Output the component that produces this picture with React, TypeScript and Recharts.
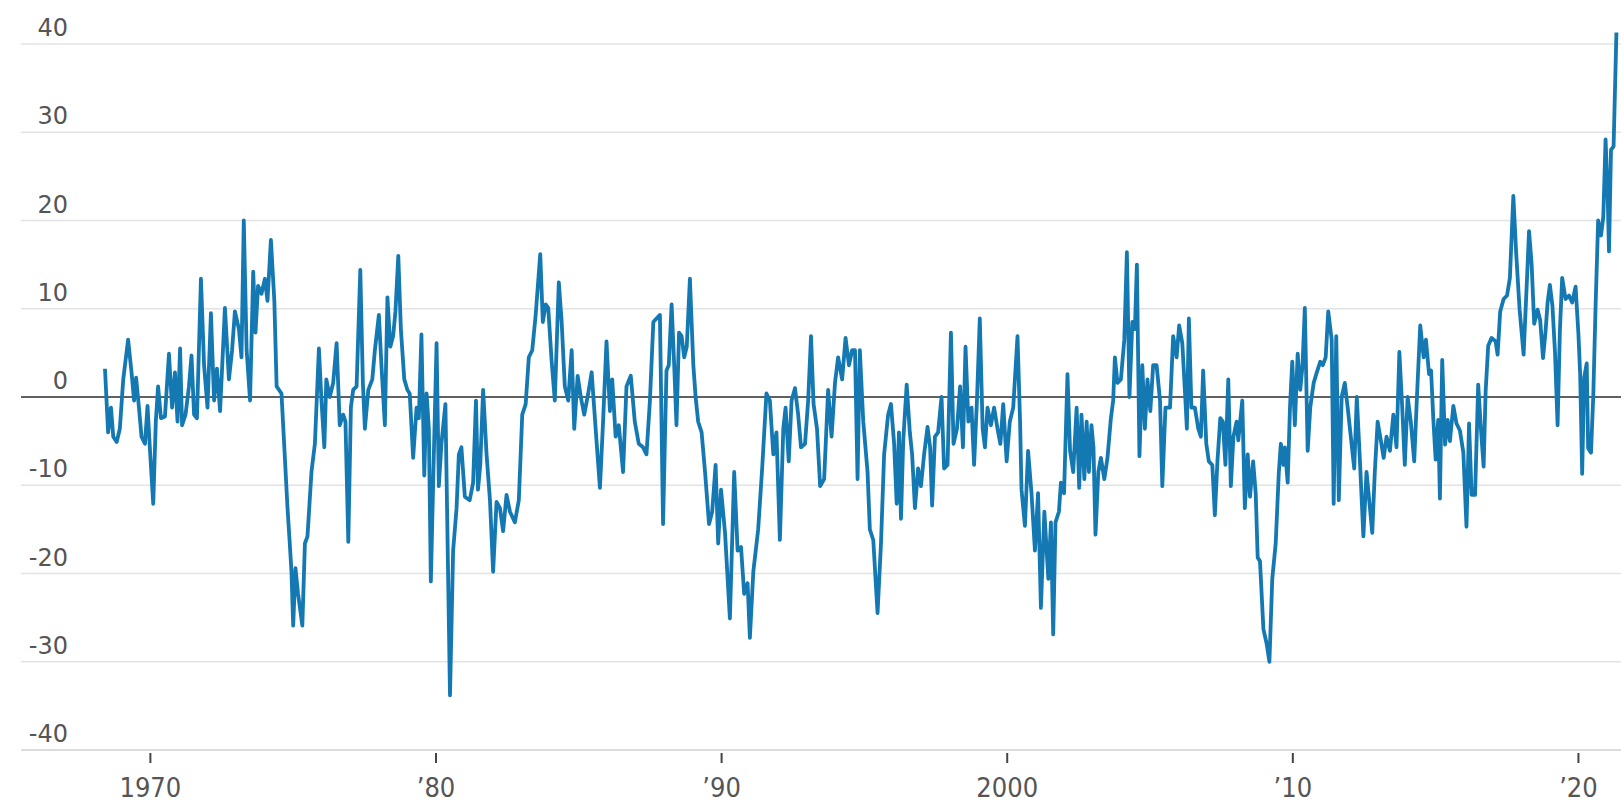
import { LineChart, Line, XAxis, YAxis, CartesianGrid, ReferenceLine } from "recharts";

const Y_TICKS = [-40, -30, -20, -10, 0, 10, 20, 30, 40];
const X_TICKS = [1970, 1980, 1990, 2000, 2010, 2020];
const X_LABELS = ["1970", "’80", "’90", "2000", "’10", "’20"];

// [decimal year, value]
const SERIES_1968_1975: [number, number][] = [
  [1968.41, 3.2], [1968.52, -4.0], [1968.62, -1.2], [1968.7, -4.5], [1968.82, -5.1],
  [1968.93, -3.6], [1969.05, 2.0], [1969.22, 6.5], [1969.34, 2.8], [1969.43, -0.4],
  [1969.5, 2.2], [1969.6, -1.2], [1969.69, -4.5], [1969.81, -5.3], [1969.9, -1.0],
  [1969.98, -5.7], [1970.1, -12.1], [1970.19, -2.8], [1970.27, 1.2], [1970.37, -2.4],
  [1970.51, -2.2], [1970.65, 4.9], [1970.76, -1.2], [1970.86, 2.8], [1970.95, -2.8],
  [1971.04, 5.5], [1971.11, -3.2], [1971.23, -2.0], [1971.35, 1.2], [1971.44, 4.7],
  [1971.53, -2.0], [1971.63, -2.4], [1971.77, 13.4], [1971.88, 3.6], [1972.0, -1.2],
  [1972.12, 9.5], [1972.23, -0.4], [1972.33, 3.2], [1972.44, -1.6], [1972.61, 10.1],
  [1972.75, 2.0], [1972.86, 5.3], [1972.96, 9.7], [1973.1, 7.7], [1973.19, 4.5],
  [1973.27, 20.0], [1973.37, 5.3], [1973.49, -0.4], [1973.6, 14.2], [1973.68, 7.3],
  [1973.77, 12.6], [1973.89, 11.7], [1974.01, 13.4], [1974.1, 10.9], [1974.22, 17.8],
  [1974.34, 10.9], [1974.42, 1.2], [1974.59, 0.4], [1974.8, -12.5], [1974.88, -16.6],
  [1974.94, -19.8], [1975.0, -25.9], [1975.08, -19.4], [1975.17, -22.3], [1975.32, -25.9],
  [1975.41, -16.6], [1975.5, -15.8], [1975.64, -8.5], [1975.76, -5.3], [1975.9, 5.5],
];

const SERIES_1976_1982: [number, number][] = [
  [1975.99, -0.4], [1976.09, -5.7], [1976.16, 2.0], [1976.28, 0], [1976.4, 1.6],
  [1976.52, 6.1], [1976.63, -3.2], [1976.75, -2.0], [1976.83, -2.8], [1976.93, -16.4],
  [1977.02, -1.2], [1977.1, 0.8], [1977.22, 1.2], [1977.35, 14.4], [1977.44, 1.6],
  [1977.51, -3.6], [1977.63, 0.8], [1977.77, 2.0], [1977.86, 5.3], [1978.0, 9.3],
  [1978.09, 3.6], [1978.21, -3.2], [1978.3, 11.3], [1978.4, 5.7], [1978.5, 6.9],
  [1978.58, 9.7], [1978.68, 16.0], [1978.77, 7.7], [1978.89, 2.0], [1979.0, 0.8],
  [1979.08, 0.4], [1979.2, -6.9], [1979.32, -1.2], [1979.4, -2.4], [1979.49, 7.1],
  [1979.59, -8.9], [1979.67, 0.4], [1979.75, -3.6], [1979.82, -20.9], [1979.91, -8.5],
  [1980.02, 6.1], [1980.1, -10.1], [1980.19, -5.3], [1980.33, -0.8], [1980.49, -33.8],
  [1980.6, -17.4], [1980.72, -12.6], [1980.8, -6.5], [1980.89, -5.7], [1981.01, -11.3],
  [1981.18, -11.7], [1981.3, -9.7], [1981.4, -0.4], [1981.47, -10.5], [1981.55, -7.7],
  [1981.65, 0.8], [1981.77, -6.5], [1981.89, -11.7], [1982.0, -19.8], [1982.12, -11.9],
  [1982.24, -12.6], [1982.35, -15.2], [1982.47, -11.1], [1982.59, -13.0], [1982.76, -14.2],
  [1982.9, -11.7],
];

const SERIES_1983_1989: [number, number][] = [
  [1983.02, -2.0], [1983.14, -0.8], [1983.25, 4.5], [1983.37, 5.3], [1983.49, 9.3],
  [1983.65, 16.2], [1983.74, 8.5], [1983.84, 10.5], [1983.93, 10.1], [1984.05, 4.0],
  [1984.16, -0.4], [1984.3, 13.0], [1984.4, 8.5], [1984.51, 1.2], [1984.63, -0.4],
  [1984.75, 5.3], [1984.84, -3.6], [1984.96, 2.4], [1985.07, 0], [1985.19, -2.0],
  [1985.33, 0.4], [1985.45, 2.8], [1985.59, -3.6], [1985.74, -10.3], [1985.85, -2.8],
  [1985.97, 6.3], [1986.09, -1.6], [1986.17, 2.0], [1986.29, -4.5], [1986.4, -3.2],
  [1986.55, -8.5], [1986.67, 1.2], [1986.82, 2.4], [1986.96, -2.8], [1987.1, -5.3],
  [1987.25, -5.7], [1987.37, -6.5], [1987.49, -0.4], [1987.61, 8.5], [1987.72, 8.9],
  [1987.84, 9.3], [1987.95, -14.4], [1988.07, 3.0], [1988.15, 3.6], [1988.25, 10.5],
  [1988.34, 3.6], [1988.42, -3.2], [1988.51, 7.3], [1988.6, 6.9], [1988.69, 4.5],
  [1988.78, 5.7], [1988.89, 13.4], [1989.01, 3.6], [1989.09, 0], [1989.18, -2.8],
  [1989.3, -4.0], [1989.42, -8.5], [1989.56, -14.4], [1989.67, -13.0], [1989.79, -7.7],
  [1989.88, -16.6], [1989.98, -10.5],
];

const SERIES_1990_1996: [number, number][] = [
  [1990.12, -15.4], [1990.29, -25.1], [1990.44, -8.5], [1990.56, -17.4], [1990.68, -17.0],
  [1990.79, -22.3], [1990.91, -21.1], [1990.99, -27.3], [1991.11, -19.8], [1991.28, -15.0],
  [1991.42, -8.1], [1991.57, 0.4], [1991.69, -0.4], [1991.81, -6.5], [1991.92, -4.0],
  [1992.04, -16.2], [1992.16, -3.6], [1992.24, -1.2], [1992.35, -7.3], [1992.45, -0.4],
  [1992.57, 1.0], [1992.68, -2.0], [1992.78, -5.7], [1992.92, -5.3], [1993.03, -0.4],
  [1993.13, 6.9], [1993.22, -0.8], [1993.34, -3.6], [1993.45, -10.1], [1993.59, -9.3],
  [1993.73, 0.8], [1993.85, -4.5], [1993.97, 1.6], [1994.08, 4.5], [1994.22, 2.0],
  [1994.34, 6.7], [1994.46, 3.6], [1994.57, 5.3], [1994.67, 5.3], [1994.76, -9.3],
  [1994.84, 5.3], [1994.96, -2.8], [1995.11, -8.5], [1995.19, -15.0], [1995.31, -16.2],
  [1995.46, -24.5], [1995.58, -16.6], [1995.69, -6.5], [1995.83, -2.0], [1995.93, -0.8],
  [1996.04, -5.3], [1996.13, -12.1], [1996.21, -4.0], [1996.28, -13.8], [1996.36, -4.9],
  [1996.48, 1.4], [1996.59, -4.0], [1996.67, -6.5], [1996.77, -12.6], [1996.88, -8.1],
  [1996.98, -10.1],
];

const SERIES_1997_2003: [number, number][] = [
  [1997.09, -6.5], [1997.21, -3.4], [1997.3, -5.7], [1997.37, -12.3], [1997.47, -4.5],
  [1997.58, -4.0], [1997.7, 0], [1997.79, -8.1], [1997.91, -7.7], [1998.03, 7.3],
  [1998.12, -5.3], [1998.24, -3.6], [1998.35, 1.2], [1998.45, -5.7], [1998.54, 5.7],
  [1998.64, -2.8], [1998.75, -1.2], [1998.84, -7.7], [1998.94, -0.4], [1999.04, 8.9],
  [1999.14, -3.6], [1999.22, -5.7], [1999.31, -1.2], [1999.43, -3.2], [1999.54, -1.2],
  [1999.66, -3.6], [1999.76, -5.3], [1999.86, -0.8], [1999.98, -7.3], [2000.09, -2.8],
  [2000.21, -1.2], [2000.36, 6.9], [2000.45, -2.8], [2000.5, -10.5], [2000.62, -14.6],
  [2000.73, -6.1], [2000.85, -10.9], [2000.97, -17.4], [2001.08, -10.9], [2001.18, -23.9],
  [2001.3, -13.0], [2001.44, -20.6], [2001.53, -14.2], [2001.61, -26.9], [2001.69, -14.2],
  [2001.81, -13.0], [2001.88, -9.7], [2001.99, -10.9], [2002.11, 2.6], [2002.2, -6.1],
  [2002.31, -8.5], [2002.43, -1.2], [2002.52, -10.3], [2002.6, -2.0], [2002.7, -9.3],
  [2002.78, -2.8], [2002.86, -8.5], [2002.95, -3.2], [2003.02, -5.7], [2003.09, -15.6],
  [2003.19, -8.5], [2003.28, -6.9], [2003.4, -9.3], [2003.51, -6.9], [2003.63, -2.4],
  [2003.71, -0.4], [2003.77, 4.5], [2003.86, 1.6], [2003.98, 2.0],
];

const SERIES_2004_2010: [number, number][] = [
  [2004.1, 6.5], [2004.19, 16.4], [2004.28, 0], [2004.38, 8.5], [2004.47, 7.7],
  [2004.54, 15.0], [2004.63, -6.7], [2004.73, 3.6], [2004.82, -3.6], [2004.91, 2.0],
  [2005.01, -1.6], [2005.11, 3.6], [2005.23, 3.6], [2005.35, -0.4], [2005.43, -10.1],
  [2005.54, -1.2], [2005.7, -1.2], [2005.81, 6.9], [2005.93, 4.5], [2006.02, 8.1],
  [2006.13, 6.1], [2006.24, -0.4], [2006.29, -3.6], [2006.36, 8.9], [2006.45, -1.2],
  [2006.57, -1.2], [2006.69, -3.6], [2006.78, -4.5], [2006.86, 3.0], [2006.97, -5.3],
  [2007.06, -7.3], [2007.18, -7.7], [2007.27, -13.4], [2007.36, -7.3], [2007.46, -2.4],
  [2007.55, -2.8], [2007.64, -7.7], [2007.74, 2.0], [2007.83, -10.1], [2007.92, -4.5],
  [2008.03, -2.8], [2008.09, -4.9], [2008.23, -0.4], [2008.32, -12.6], [2008.42, -6.5],
  [2008.5, -11.3], [2008.61, -7.3], [2008.7, -10.9], [2008.77, -18.2], [2008.85, -18.6],
  [2008.97, -26.3], [2009.08, -27.9], [2009.18, -30.0], [2009.28, -20.6], [2009.4, -16.6],
  [2009.51, -8.5], [2009.58, -5.3], [2009.67, -7.7], [2009.72, -5.7], [2009.82, -9.7],
  [2009.9, -1.2], [2009.98, 4.0], [2010.07, -3.2], [2010.17, 4.9], [2010.26, 0.8],
  [2010.34, 3.6], [2010.42, 10.1], [2010.52, -6.1], [2010.61, -1.2], [2010.73, 1.6],
  [2010.84, 2.8], [2010.96, 4.0],
];

const SERIES_2011_2016: [number, number][] = [
  [2011.05, 3.6], [2011.15, 4.5], [2011.24, 9.7], [2011.36, 6.5], [2011.43, -12.1],
  [2011.52, 6.9], [2011.61, -11.7], [2011.71, 0], [2011.82, 1.6], [2011.92, -1.2],
  [2012.03, -4.5], [2012.15, -8.1], [2012.24, 0], [2012.35, -7.3], [2012.47, -15.8],
  [2012.58, -8.5], [2012.7, -12.6], [2012.78, -15.4], [2012.87, -8.5], [2012.97, -2.8],
  [2013.06, -4.5], [2013.18, -6.9], [2013.28, -4.5], [2013.4, -6.1], [2013.52, -2.0],
  [2013.63, -5.7], [2013.73, 5.1], [2013.83, -1.2], [2013.92, -7.7], [2014.02, 0],
  [2014.13, -2.8], [2014.25, -7.3], [2014.34, -0.4], [2014.46, 8.1], [2014.58, 4.5],
  [2014.66, 6.5], [2014.77, 2.6], [2014.84, 3.0], [2014.92, -2.6], [2015.0, -7.1],
  [2015.09, -2.6], [2015.15, -11.5], [2015.23, 4.2], [2015.33, -5.4], [2015.42, -2.6],
  [2015.5, -5.0], [2015.62, -1.0], [2015.73, -3.0], [2015.85, -3.8], [2015.97, -6.3],
  [2016.08, -14.7], [2016.17, -3.0], [2016.26, -11.1], [2016.38, -11.1], [2016.49, 1.4],
  [2016.59, -3.8], [2016.68, -7.9], [2016.75, 0.6], [2016.84, 5.8], [2016.96, 6.7],
];

const SERIES_2017_2021: [number, number][] = [
  [2017.1, 6.3], [2017.17, 4.8], [2017.26, 9.7], [2017.38, 11.1], [2017.5, 11.5],
  [2017.6, 13.5], [2017.72, 22.8], [2017.82, 16.3], [2017.94, 9.9], [2018.08, 4.8],
  [2018.2, 13.5], [2018.27, 18.8], [2018.36, 15.1], [2018.45, 8.3], [2018.57, 9.9],
  [2018.66, 8.7], [2018.76, 4.4], [2018.85, 7.5], [2018.92, 10.7], [2019.0, 12.7],
  [2019.09, 10.3], [2019.18, 5.0], [2019.27, -3.2], [2019.35, 7.5], [2019.43, 13.5],
  [2019.55, 11.1], [2019.67, 11.5], [2019.78, 10.7], [2019.9, 12.5], [2020.0, 7.1],
  [2020.06, 2.6], [2020.13, -8.7], [2020.2, 2.2], [2020.29, 3.8], [2020.34, -5.8],
  [2020.44, -6.3], [2020.52, 0.2], [2020.6, 10.3], [2020.69, 20.0], [2020.79, 18.3],
  [2020.87, 20.4], [2020.95, 29.2], [2021.02, 23.2], [2021.07, 16.5], [2021.14, 28.0],
  [2021.23, 28.4], [2021.33, 41.3],
];

const data = [
  ...SERIES_1968_1975,
  ...SERIES_1976_1982,
  ...SERIES_1983_1989,
  ...SERIES_1990_1996,
  ...SERIES_1997_2003,
  ...SERIES_2004_2010,
  ...SERIES_2011_2016,
  ...SERIES_2017_2021,
].map(([t, v]) => ({ t, v }));

const LINE_COLOR = "#1479b2";
const TEXT_COLOR = "#555";

function YTick(props: any) {
  const { y, payload } = props;
  return (
    <text x={68} y={y - 8} textAnchor="end" fontSize={24} fill={TEXT_COLOR} fontFamily="'DejaVu Sans', sans-serif">
      {payload.value}
    </text>
  );
}

function XTick(props: any) {
  const { x, y, payload } = props;
  const label = X_LABELS[X_TICKS.indexOf(payload.value)];
  return (
    <g>
      <line x1={x} x2={x} y1={y + 3} y2={y + 13} stroke="#444" strokeWidth={2} />
      <text x={x} y={y + 47} textAnchor="middle" fontSize={27} fill={TEXT_COLOR} fontFamily="'DejaVu Sans Condensed', sans-serif">
        {label}
      </text>
    </g>
  );
}

export default function App() {
  return (
    <div style={{ position: "absolute", left: 0, top: 0, background: "#fff" }}>
      <LineChart width={1621} height={809} data={data} margin={{ top: 8.7, right: 0, left: 0, bottom: 0 }}>
        <CartesianGrid vertical={false} horizontalValues={Y_TICKS} stroke="#e3e3e3" strokeWidth={1.5} />
        <XAxis
          dataKey="t"
          type="number"
          domain={[1965.47, 2021.49]}
          ticks={X_TICKS}
          allowDataOverflow
          height={59}
          axisLine={{ stroke: "#dcdcdc", strokeWidth: 2 }}
          tickLine={false}
          tickSize={0}
          tickMargin={0}
          tick={<XTick />}
          interval={0}
        />
        <YAxis
          type="number"
          domain={[-40, 44]}
          ticks={Y_TICKS}
          width={21}
          axisLine={false}
          tickLine={false}
          tick={<YTick />}
          interval={0}
        />
        <ReferenceLine y={0} stroke="#333" strokeWidth={1.5} />
        <Line
          type="linear"
          dataKey="v"
          stroke={LINE_COLOR}
          strokeWidth={3.8}
          strokeLinejoin="round"
          dot={false}
          isAnimationActive={false}
        />
      </LineChart>
    </div>
  );
}
